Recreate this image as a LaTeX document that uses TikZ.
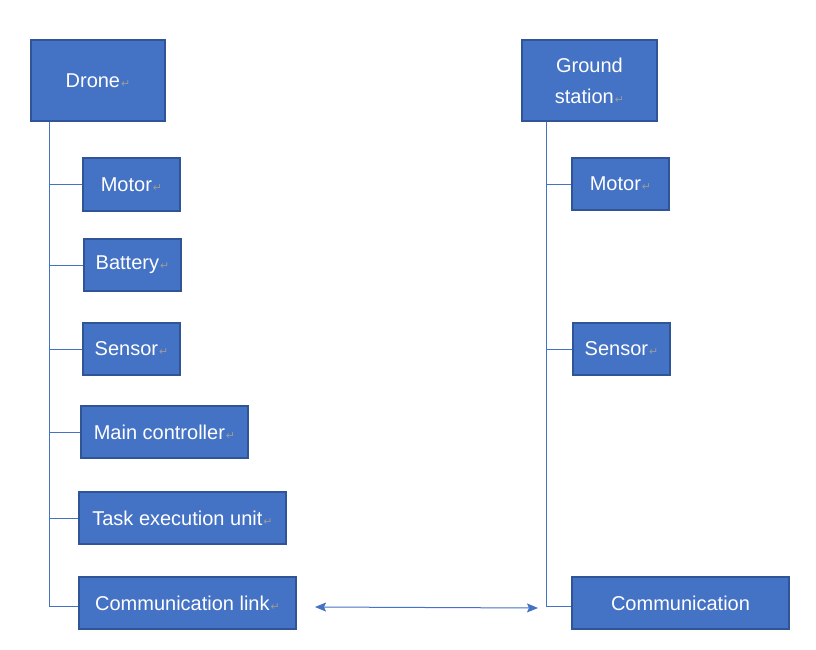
\documentclass[tikz,border=0pt]{standalone}
\usepackage{fontspec}
\setmainfont{Liberation Sans}
\newfontfamily\retfont{DejaVu Sans}
\usetikzlibrary{arrows.meta}
\definecolor{boxfill}{HTML}{4472C4}
\definecolor{boxline}{HTML}{2F5597}
\definecolor{markgray}{HTML}{9A9A9A}
\newcommand{\rmk}{\hspace{1pt}{\retfont\fontsize{11}{11}\selectfont\color{markgray}↵}}
\tikzset{
  blockbox/.style={draw=boxline, line width=1.6pt, fill=boxfill, text=white,
    font=\fontsize{20}{31}\selectfont, align=center, inner sep=0pt},
  conn/.style={draw=boxfill, line width=0.9pt},
  arr/.style={draw=boxfill, line width=1pt, {Stealth[length=11pt,width=9pt,inset=2pt]}-{Stealth[length=11pt,width=9pt,inset=2pt]}}
}
\newcommand{\bx}[6]{\node[blockbox, minimum width=#4pt, minimum height=#5pt] (#1) at (#2,#3) {#6};}
\begin{document}
\begin{tikzpicture}[x=1pt,y=-1pt]
\useasboundingbox (0,0) rectangle (816,650);
% left column
\bx{drone}{98}{80.5}{134}{81}{Drone\rmk}
\bx{motorL}{131.5}{184.5}{97}{53}{Motor\rmk}
\bx{battery}{132.5}{265}{97}{52}{Battery\rmk}
\bx{sensorL}{131.5}{349}{97}{52}{Sensor\rmk}
\bx{mainc}{164.5}{432}{167}{52}{Main controller\rmk}
\bx{task}{182.5}{518}{207}{52}{Task execution unit\rmk}
\bx{commL}{187.5}{603}{217}{52}{Communication link\rmk}
% right column
\bx{ground}{589.5}{80.5}{135}{81}{Ground\\ station\rmk}
\bx{motorR}{620.5}{184}{97}{52}{Motor\rmk}
\bx{sensorR}{621.5}{349}{97}{52}{Sensor\rmk}
\bx{commR}{680.5}{603}{217}{52}{Communication}
% trunk lines
\coordinate (lx) at (49,0);
\coordinate (rx) at (546,0);
\coordinate (cl) at ([yshift=-3pt]commL.west);
\coordinate (cr) at ([yshift=-3pt]commR.west);
\draw[conn] (drone.south -| lx) -- (cl -| lx) -- (cl);
\foreach \n in {motorL,battery,sensorL,mainc,task}{
  \draw[conn] (\n.west -| lx) -- (\n.west);
}
\draw[conn] (ground.south -| rx) -- (cr -| rx) -- (cr);
\foreach \n in {motorR,sensorR}{
  \draw[conn] (\n.west -| rx) -- (\n.west);
}
% link arrow
\coordinate (a1) at (315,607);
\coordinate (a2) at (538,608);
\draw[arr] (a1) -- (a2);
\end{tikzpicture}
\end{document}
